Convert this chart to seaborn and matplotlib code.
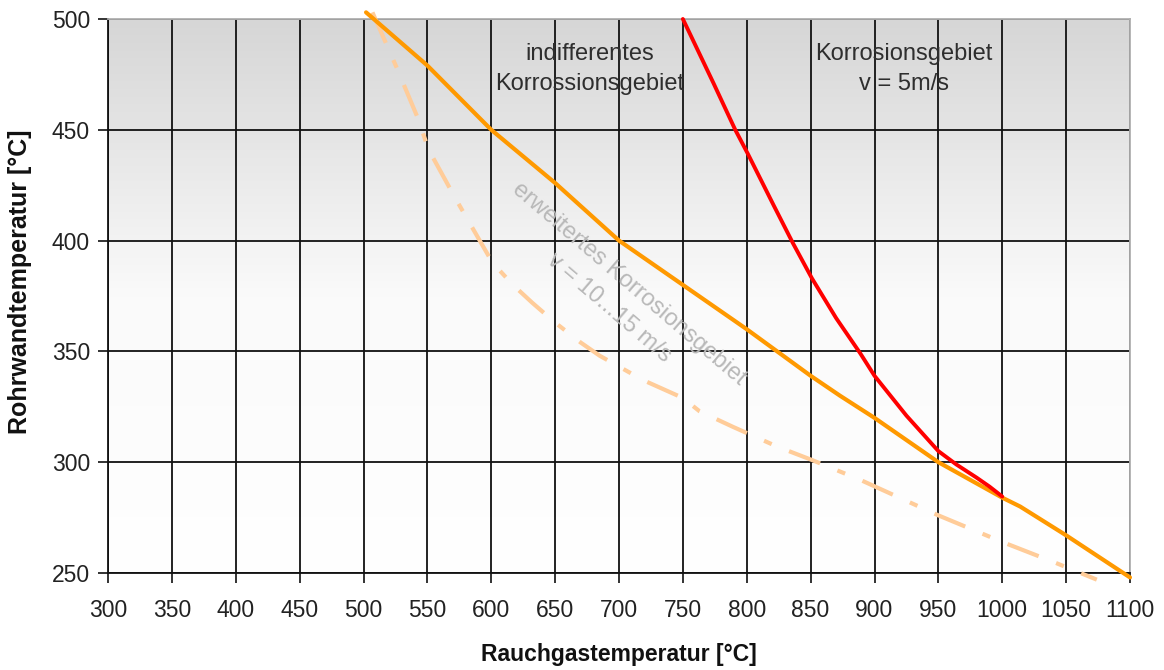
import numpy as np
import pandas as pd
import matplotlib
matplotlib.use("Agg")
import matplotlib.pyplot as plt
from matplotlib.colors import LinearSegmentedColormap
import seaborn as sns

# ---- data ----
orange_x = [502, 550, 600, 650, 700, 750, 800, 850, 873, 900, 950, 1000, 1014, 1050, 1100]
orange_y = [503, 479, 450, 426, 400, 380, 360, 339, 330, 320, 300, 284, 280, 267, 248]

red_x = [750, 774, 791, 801, 821, 836, 851, 870, 889, 900, 925, 950, 964, 980, 990, 1000]
red_y = [500, 471, 450, 439, 416, 399, 383, 365, 349, 339, 321, 305, 299, 293, 289, 284.5]

peach_x = [507, 526, 542, 551, 572, 594, 601, 617, 632, 650, 670, 685, 719, 750,
           763, 789, 824, 851, 889, 950, 1000, 1040, 1074]
peach_y = [503, 478, 456, 441, 419, 397, 390, 380, 372, 363, 354, 348, 337, 329,
           323, 316, 307, 301, 292, 276, 264, 255, 247]

x_ticks = list(range(300, 1101, 50))
y_ticks = list(range(250, 501, 50))

label_indiff = "indifferentes\nKorrossionsgebiet"
label_korr = "Korrosionsgebiet\nv = 5m/s"
label_erw = "erweitertes Korrosionsgebiet\nv = 10...15 m/s"
xlabel = "Rauchgastemperatur [°C]"
ylabel = "Rohrwandtemperatur [°C]"

# ---- style ----
sns.set_style("white")
plt.rcParams["font.family"] = ["Liberation Sans", "DejaVu Sans"]

fig = plt.figure(figsize=(11.64, 6.70), dpi=100)
ax = fig.add_axes([108 / 1164, 1 - 573 / 670, (1130 - 108) / 1164, (573 - 19) / 670])

# gradient background (gray top -> white bottom)
cmap = LinearSegmentedColormap.from_list("bg", ["#ffffff", "#fafafa", "#d6d6d6"])
grad = np.linspace(0, 1, 256).reshape(-1, 1)
ax.imshow(grad, cmap=cmap, origin="lower", extent=[0, 1, 0, 1],
          transform=ax.transAxes, aspect="auto", zorder=0, interpolation="bilinear")

# grid
for xv in x_ticks:
    ax.axvline(xv, color="#111111", lw=1.3, zorder=1)
for yv in y_ticks:
    ax.axhline(yv, color="#111111", lw=1.3, zorder=1)

df_o = pd.DataFrame({"x": orange_x, "y": orange_y})
df_r = pd.DataFrame({"x": red_x, "y": red_y})
df_p = pd.DataFrame({"x": peach_x, "y": peach_y})

sns.lineplot(data=df_p, x="x", y="y", ax=ax, color="#ffcc99", lw=3.0,
             linestyle=(0, (8.0, 4.5, 2.0, 4.5)), solid_capstyle="butt",
             dash_capstyle="butt", clip_on=False, zorder=3)
sns.lineplot(data=df_o, x="x", y="y", ax=ax, color="#ff9900", lw=3.0,
             clip_on=False, zorder=4)
sns.lineplot(data=df_r, x="x", y="y", ax=ax, color="#ff0000", lw=2.8,
             clip_on=False, zorder=5)

ax.set_xlim(300, 1100)
ax.set_ylim(250, 500)
ax.set_xticks(x_ticks)
ax.set_yticks(y_ticks)
ax.tick_params(axis="both", which="both", direction="out", length=7, width=1.2,
               color="#111111", labelsize=16.5, labelcolor="#222222",
               bottom=True, left=True)
ax.tick_params(axis="x", pad=12)
ax.tick_params(axis="y", pad=6)

for s in ["left", "bottom"]:
    ax.spines[s].set_color("#111111")
    ax.spines[s].set_linewidth(1.3)
for s in ["top", "right"]:
    ax.spines[s].set_color("#b0b0b0")
    ax.spines[s].set_linewidth(1.3)

ax.set_xlabel(xlabel, fontsize=16.5, fontweight="bold", color="#111111", labelpad=15)
ax.set_ylabel(ylabel, fontsize=18, fontweight="bold", color="#111111")
ax.yaxis.set_label_coords(-0.074, 0.525)

# annotations
ax.text(677, 477.5, label_indiff, ha="center", va="center", fontsize=17,
        color="#2e2e2e", linespacing=1.5, zorder=6)
ax.text(923, 477.5, label_korr, ha="center", va="center", fontsize=17,
        color="#2e2e2e", linespacing=1.5, zorder=6)
ax.text(700, 375, label_erw, ha="center", va="center", fontsize=17,
        color="#b8b8b8", rotation=-40.5, rotation_mode="anchor",
        linespacing=1.5, zorder=2)

fig.savefig("out.png", dpi=100)
